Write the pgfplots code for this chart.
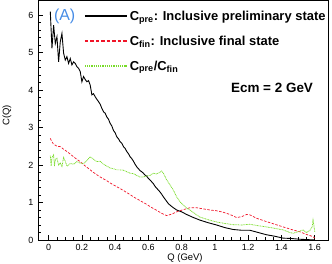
\documentclass[border=0pt]{standalone}
\usepackage{pgfplots}
\pgfplotsset{compat=1.18}
\usepackage{fontspec}
\setmainfont{Liberation Sans}
\definecolor{rootred}{RGB}{240,20,40}
\definecolor{rootgreen}{RGB}{120,220,40}
\definecolor{rootblue}{RGB}{70,140,230}
\newcommand{\lf}{\bfseries\fontsize{13}{15}\selectfont}
\begin{document}
\begin{tikzpicture}
\begin{axis}[
  at={(38bp,24bp)}, anchor=south west,
  scale only axis, width=290bp, height=240bp,
  xmin=-0.064, xmax=1.68, ymin=0, ymax=6.4,
  xtick={0,0.2,...,1.61}, minor x tick num=3,
  ytick={0,1,...,6}, minor y tick num=4,
  xtick pos=bottom, ytick pos=left,
  tick align=inside,
  major tick length=5bp, minor tick length=2.5bp,
  tick style={black, line width=0.5pt},
  axis line style={line width=0.6pt},
  /pgf/number format/assume math mode=true,
  /pgf/number format/fixed,
  xticklabel style={font=\fontsize{9}{10}\selectfont, yshift=-1bp},
  yticklabel style={font=\fontsize{9}{10}\selectfont, xshift=-1bp},
  xlabel={Q (GeV)},
  ylabel={C(Q)},
  xlabel style={at={(axis description cs:0.507,-0.075)}, anchor=center, font=\fontsize{9.5}{11}\selectfont},
  ylabel style={at={(axis description cs:-0.107,0.52)}, anchor=center, font=\fontsize{9.5}{11}\selectfont},
  legend style={draw=none, fill=none, at={(0.147,0.972)}, anchor=north west,
    font=\lf, row sep=10bp},
  legend cell align=left,
  clip=true,
]
\addplot[black, line width=0.9pt, legend image code/.code={\draw[draw=black, line width=1.8pt, solid] (0bp,0bp) -- (42bp,0bp);}] coordinates {
(0.01,6.09) (0.02,5.11) (0.03,5.73) (0.04,5.24) (0.05,5.42) (0.06,4.75) (0.07,5.29) (0.08,5.51) (0.09,4.98) (0.10,4.8) (0.11,4.89) (0.12,4.71) (0.13,4.84) (0.14,4.67) (0.15,4.75) (0.16,4.71) (0.17,4.62) (0.18,4.58) (0.19,4.49) (0.20,4.22) (0.21,4.36) (0.22,4.28) (0.23,4.22) (0.24,4.25) (0.25,4.13) (0.26,3.87) (0.27,3.9) (0.28,3.82) (0.29,3.75) (0.30,3.69) (0.31,3.62) (0.32,3.51) (0.33,3.42) (0.34,3.38) (0.35,3.28) (0.36,3.22) (0.37,3.11) (0.38,3.04) (0.39,2.92) (0.40,2.86) (0.41,2.75) (0.42,2.70) (0.43,2.62) (0.44,2.58) (0.45,2.49) (0.46,2.44) (0.47,2.36) (0.48,2.30) (0.49,2.22) (0.50,2.17) (0.51,2.1) (0.52,2.02) (0.53,1.95) (0.54,1.90) (0.55,1.85) (0.56,1.82) (0.57,1.78) (0.58,1.73) (0.59,1.7) (0.60,1.64) (0.61,1.6) (0.62,1.55) (0.63,1.5) (0.64,1.43) (0.65,1.38) (0.66,1.33) (0.67,1.28) (0.68,1.22) (0.69,1.15) (0.70,1.09) (0.71,1.03) (0.72,0.97) (0.73,0.93) (0.75,0.86) (0.77,0.8) (0.80,0.75) (0.83,0.68) (0.87,0.6) (0.91,0.53) (0.96,0.46) (1.01,0.40) (1.06,0.33) (1.11,0.28) (1.16,0.26) (1.21,0.26) (1.26,0.2) (1.31,0.14) (1.36,0.1) (1.41,0.05) (1.46,0.04) (1.51,0.02) (1.56,0.01) (1.6,0.0)
};
\addlegendentry{C\textsubscript{pre}: Inclusive preliminary state}
\addplot[color=rootred, line width=0.7pt, dash pattern=on 2.5pt off 1.5pt, legend image code/.code={\draw[draw=rootred, line width=1.6pt, dash pattern=on 3.5pt off 2pt] (0bp,0bp) -- (42bp,0bp);}] coordinates {
(0.01,2.71) (0.02,2.62) (0.03,2.55) (0.04,2.53) (0.05,2.5) (0.07,2.49) (0.09,2.42) (0.11,2.36) (0.13,2.29) (0.15,2.22) (0.17,2.15) (0.19,2.09) (0.21,2.01) (0.23,1.94) (0.25,1.87) (0.27,1.8) (0.29,1.74) (0.31,1.68) (0.33,1.63) (0.35,1.58) (0.37,1.52) (0.39,1.47) (0.41,1.42) (0.45,1.32) (0.49,1.21) (0.51,1.15) (0.55,1.05) (0.59,0.95) (0.61,0.89) (0.65,0.79) (0.68,0.71) (0.71,0.65) (0.74,0.69) (0.77,0.75) (0.81,0.81) (0.85,0.86) (0.89,0.86) (0.93,0.83) (0.97,0.80) (1.01,0.78) (1.05,0.74) (1.09,0.68) (1.13,0.6) (1.16,0.62) (1.19,0.68) (1.21,0.67) (1.25,0.58) (1.29,0.52) (1.31,0.49) (1.36,0.42) (1.41,0.35) (1.46,0.28) (1.51,0.22) (1.55,0.15) (1.59,0.09) (1.6,0.05)
};
\addlegendentry{C\textsubscript{fin}: Inclusive final state}
\addplot[color=rootgreen, line width=0.75pt, dash pattern=on 0.9pt off 0.7pt, legend image code/.code={\draw[draw=rootgreen, line width=2pt, dash pattern=on 1.3pt off 0.9pt] (0bp,0bp) -- (42bp,0bp);}] coordinates {
(0.01,2.25) (0.015,1.98) (0.02,2.2) (0.03,2.27) (0.035,1.97) (0.04,2.15) (0.05,2.18) (0.06,2.0) (0.07,2.05) (0.08,1.96) (0.09,2.2) (0.1,2.1) (0.11,1.97) (0.12,2.0) (0.13,2.04) (0.15,2.02) (0.17,2.09) (0.19,2.05) (0.21,2.04) (0.23,2.12) (0.25,2.22) (0.27,2.15) (0.29,2.09) (0.31,2.1) (0.33,2.02) (0.35,1.97) (0.37,1.92) (0.39,1.9) (0.41,1.87) (0.43,1.87) (0.45,1.86) (0.47,1.82) (0.49,1.78) (0.51,1.77) (0.53,1.72) (0.55,1.68) (0.57,1.68) (0.59,1.71) (0.61,1.72) (0.63,1.78) (0.65,1.76) (0.67,1.81) (0.68,1.84) (0.69,1.78) (0.71,1.6) (0.73,1.47) (0.75,1.33) (0.77,1.15) (0.79,1.02) (0.81,0.93) (0.83,0.85) (0.85,0.8) (0.88,0.7) (0.91,0.61) (0.96,0.54) (1.01,0.48) (1.06,0.44) (1.11,0.41) (1.16,0.4) (1.21,0.42) (1.26,0.38) (1.31,0.35) (1.36,0.31) (1.41,0.27) (1.45,0.2) (1.47,0.18) (1.5,0.22) (1.53,0.27) (1.55,0.2) (1.57,0.25) (1.585,0.35) (1.59,0.53) (1.595,0.4) (1.6,0.22)
};
\addlegendentry{C\textsubscript{pre}/C\textsubscript{fin}}
\node[font=\fontsize{16}{18}\selectfont, text=rootblue] at (rel axis cs:0.092,0.93) {(A)};
\node[font=\bfseries\fontsize{13.5}{15}\selectfont] at (rel axis cs:0.807,0.633) {Ecm = 2 GeV};
\end{axis}
\pgfresetboundingbox
\path (0,0) rectangle (332bp,264bp);
\end{tikzpicture}
\end{document}
